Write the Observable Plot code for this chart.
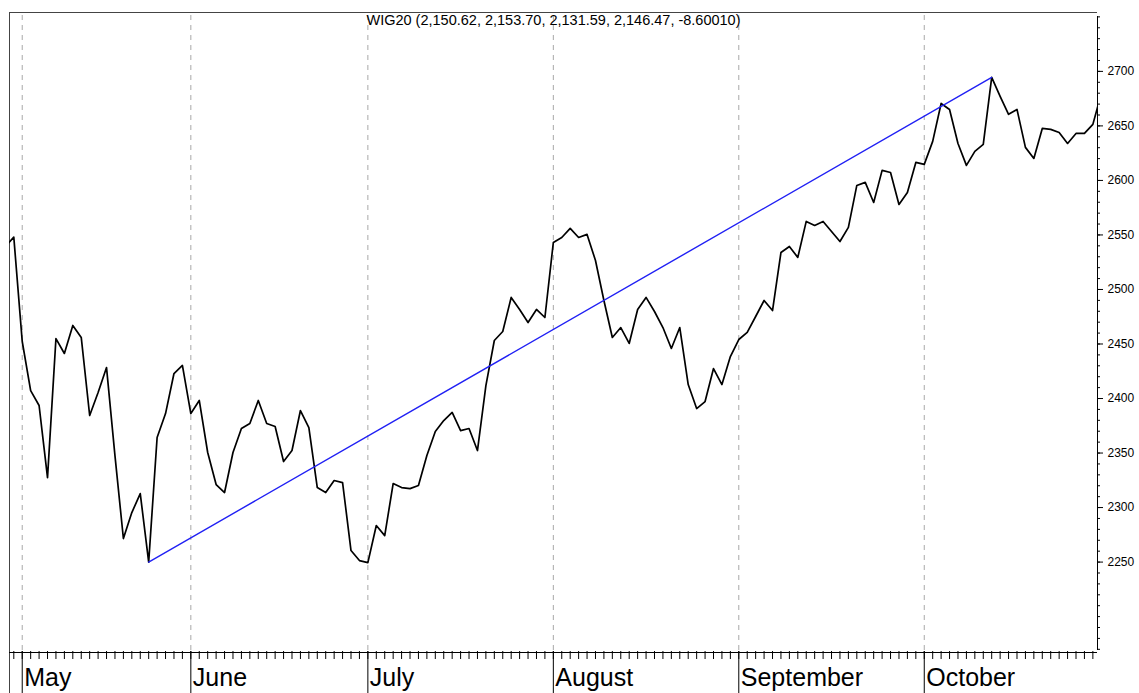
<!DOCTYPE html>
<html>
<head>
<meta charset="utf-8">
<script src="https://cdn.jsdelivr.net/npm/d3@7"></script>
<script src="https://cdn.jsdelivr.net/npm/@observablehq/plot@0.6"></script>
<style>
  html, body { margin: 0; padding: 0; background: #ffffff; }
  #chart { width: 1139px; height: 693px; overflow: hidden; }
</style>
</head>
<body>
<div id="chart"></div>
<script>
// ---- Data ----
const title = "WIG20 (2,150.62, 2,153.70, 2,131.59, 2,146.47, -8.60010)";

// Daily closes, one per trading day; first value is the session before index 0 (partly clipped)
const firstIndex = -1;
const closes = [
  2539.4, 2548.0, 2452.3, 2407.3, 2393.6, 2327.5, 2455.0, 2441.3, 2467.0, 2456.0,
  2384.4, 2405.5, 2428.4, 2347.7, 2271.6, 2295.4, 2312.8, 2250.0, 2364.2, 2386.2,
  2422.9, 2430.3, 2386.2, 2398.2, 2350.5, 2321.1, 2313.8, 2350.5, 2372.5, 2377.1,
  2398.2, 2377.1, 2374.3, 2342.2, 2352.3, 2389.0, 2373.4, 2318.3, 2313.8, 2324.8,
  2322.9, 2260.6, 2251.4, 2249.5, 2283.5, 2274.3, 2322.0, 2318.3, 2317.4, 2320.2,
  2347.7, 2369.7, 2379.8, 2387.2, 2370.6, 2372.5, 2352.3, 2411.9, 2453.2, 2461.5,
  2492.7, 2481.7, 2469.7, 2481.7, 2474.3, 2543.1, 2547.7, 2556.0, 2547.7, 2550.5,
  2526.6, 2489.9, 2456.0, 2465.1, 2450.5, 2481.7, 2492.7, 2479.8, 2465.1, 2445.9,
  2465.1, 2412.8, 2390.8, 2397.2, 2427.5, 2412.8, 2438.5, 2454.1, 2460.6, 2475.2,
  2489.9, 2480.7, 2533.9, 2539.4, 2529.4, 2562.4, 2558.7, 2562.4, 2553.2, 2544.0,
  2556.9, 2595.4, 2598.2, 2579.8, 2609.2, 2607.3, 2578.0, 2589.0, 2616.5, 2614.7,
  2635.8, 2670.6, 2665.1, 2633.9, 2613.8, 2626.6, 2633.0, 2694.5, 2677.1, 2660.6,
  2665.1, 2630.3, 2620.2, 2647.7, 2646.8, 2644.0, 2633.9, 2643.1, 2643.1, 2651.4,
  2679.8
];

// Trend line drawn between the May low and the October high (trading-day index, level)
const trendDays = [16, 116];
const trendLevels = [2250.0, 2694.5];

// Month labels and the trading-day index where each month begins
const months = ["May", "June", "July", "August", "September", "October"];
const monthStart = [1, 21, 42, 64, 86, 108];

// Axis ticks
const yMajorTicks = [2250, 2300, 2350, 2400, 2450, 2500, 2550, 2600, 2650, 2700];
const yMinorStep = 10;
const lastDay = 128;

// Visible ranges
const xDomain = [-0.51, 128.55];
const yDomain = [2168, 2754];

// ---- Layout ----
const W = 1139, H = 693;
const mL = 9, mR = 42, mT = 12, mB = 42;
const frameW = W - mL - mR, frameH = H - mT - mB;

// ---- Derived tables ----
const series = closes.map((v, i) => ({k: i + firstIndex, v}));
const trend = trendDays.map((k, i) => ({k, v: trendLevels[i]}));
const monthData = months.map((m, i) => ({k: monthStart[i], label: m}));
const dayTicks = d3.range(0, lastDay + 1);
const yMinorTicks = d3.range(Math.ceil(yDomain[0] / yMinorStep) * yMinorStep, yDomain[1], yMinorStep);

const chart = Plot.plot({
  width: W,
  height: H,
  marginLeft: mL,
  marginRight: mR,
  marginTop: mT,
  marginBottom: mB,
  x: {domain: xDomain, axis: null},
  y: {domain: yDomain, axis: null},
  style: {fontFamily: "'Liberation Sans', Arial, sans-serif", background: "#ffffff", color: "#000"},
  marks: [
    // dashed month gridlines
    Plot.ruleX(monthStart, {stroke: "#a8a8a8", strokeWidth: 1, strokeDasharray: "5,5", insetTop: 3}),
    // frame: top and left (left border runs down through the axis band)
    Plot.ruleY([yDomain[1]], {stroke: "#444", strokeWidth: 1}),
    Plot.ruleX([xDomain[0]], {stroke: "#444", strokeWidth: 1, insetBottom: -mB}),
    // price line
    Plot.line(series, {x: "k", y: "v", stroke: "#000", strokeWidth: 1.7, clip: true}),
    // trend line
    Plot.line(trend, {x: "k", y: "v", stroke: "#2020f4", strokeWidth: 1.4}),
    // right axis: line, minor and major ticks, labels
    Plot.ruleX([xDomain[1]], {stroke: "#000", strokeWidth: 1, insetTop: 4, insetBottom: 1}),
    Plot.ruleY(yMinorTicks, {stroke: "#000", strokeWidth: 1, insetLeft: frameW, insetRight: -3}),
    Plot.ruleY(yMajorTicks, {stroke: "#000", strokeWidth: 1, insetLeft: frameW, insetRight: -6}),
    Plot.text(yMajorTicks, {y: d => d, text: d => String(d), frameAnchor: "right", dx: 10, textAnchor: "start", fontSize: 12, fill: "#000"}),
    // bottom axis: line, daily ticks, month ticks, month labels
    Plot.ruleY([yDomain[0]], {stroke: "#000", strokeWidth: 1, dy: 1}),
    Plot.ruleX(dayTicks, {stroke: "#000", strokeWidth: 1, insetTop: frameH, insetBottom: -8}),
    Plot.ruleX(monthStart, {stroke: "#000", strokeWidth: 1, insetTop: frameH, insetBottom: -mB}),
    Plot.text(monthData, {x: "k", text: "label", frameAnchor: "bottom", dy: 26, dx: 2, textAnchor: "start", lineAnchor: "middle", fontSize: 25, fill: "#000"}),
    // title
    Plot.text([title], {frameAnchor: "top", dy: 2, lineAnchor: "top", fontSize: 14.5, fill: "#000"})
  ]
});

document.getElementById("chart").appendChild(chart);
</script>
</body>
</html>
